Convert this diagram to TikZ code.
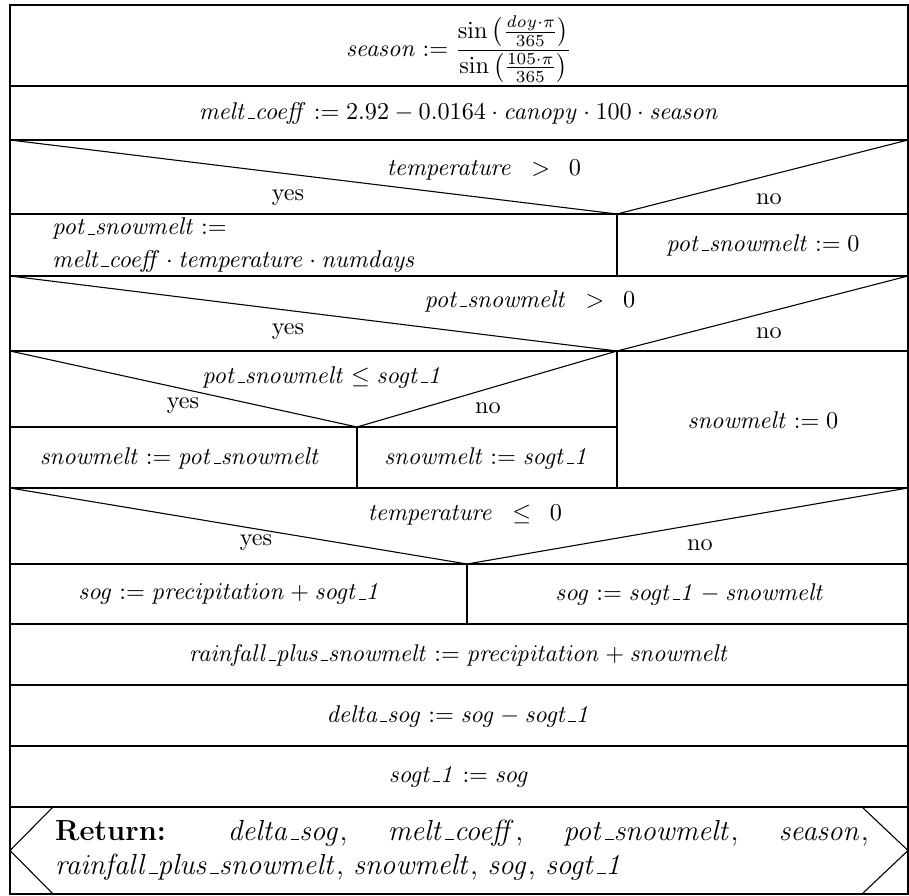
\documentclass[tikz,border=0pt]{standalone}
\usepackage{amsmath}
\newcommand{\us}{\kern.06em\vbox{\hrule width.3em}}
\tikzstyle{txt}=[inner sep=0pt]
\tikzstyle{twoline}=[inner sep=0pt, align=left, font=\fontsize{10pt}{13.4pt}\selectfont]
\tikzstyle{retbox}=[inner sep=0pt, text width=336pt, align=justify, font=\large]
\tikzstyle{frame}=[line width=0.45pt]

\begin{document}
\begin{tikzpicture}[x=0.413pt, y=-0.413pt]
\useasboundingbox (0, 0) rectangle (909, 896);
% outer frame and rows
\draw[frame] (10, 5) rectangle (908, 894);
\foreach \y in {86, 140, 214, 276, 351, 488, 564, 624, 685, 746, 807}
  \draw[frame] (10, \y) -- (908, \y);
\draw[frame] (10, 427) -- (617, 427);
% branch separators
\draw[frame] (617, 214) -- (617, 276);
\draw[frame] (617, 351) -- (617, 488);
\draw[frame] (357, 427) -- (357, 488);
\draw[frame] (467, 564) -- (467, 624);
% decision triangles
\draw[frame] (10, 140) -- (617, 214) -- (908, 140);
\draw[frame] (10, 276) -- (617, 351) -- (908, 276);
\draw[frame] (10, 351) -- (357, 427) -- (617, 351);
\draw[frame] (10, 488) -- (467, 564) -- (908, 488);
% return chevrons
\draw[frame] (53, 807) -- (10, 850.5) -- (53, 894);
\draw[frame] (862, 807) -- (908, 850.5) -- (862, 894);

\node[txt] at (459, 49) (season) {$\displaystyle \mathit{season} := \frac{\sin\mathinner{\bigl(\frac{\mathit{doy}\cdot\pi}{365}\bigr)}}{\sin\mathinner{\bigl(\frac{105\cdot\pi}{365}\bigr)}}$};
\node[txt] at (459, 113) (melt) {$\mathit{melt\us coeff} := 2.92 - 0.0164\cdot\mathit{canopy}\cdot 100\cdot\mathit{season}$};

\node[txt] at (484, 170) (c1) {$\mathit{temperature}\enspace > \enspace 0$};
\node[txt] at (288, 198) (c1y) {yes};
\node[txt] at (769, 199) (c1n) {no};
\node[twoline, anchor=west] at (52, 245) (pot1) {$\mathit{pot\us snowmelt} :=$\\$\mathit{melt\us coeff}\cdot\mathit{temperature}\cdot\mathit{numdays}$};
\node[txt] at (763, 245) (pot2) {$\mathit{pot\us snowmelt} := 0$};

\node[txt] at (530, 301) (c2) {$\mathit{pot\us snowmelt}\enspace > \enspace 0$};
\node[txt] at (288, 332) (c2y) {yes};
\node[txt] at (769, 333) (c2n) {no};

\node[txt] at (323, 377) (c3) {$\mathit{pot\us snowmelt} \le \mathit{sogt\us 1}$};
\node[txt] at (183, 406) (c3y) {yes};
\node[txt] at (488, 408) (c3n) {no};
\node[txt] at (180, 458) (sm1) {$\mathit{snowmelt} := \mathit{pot\us snowmelt}$};
\node[txt] at (487, 458) (sm2) {$\mathit{snowmelt} := \mathit{sogt\us 1}$};
\node[txt] at (763, 420) (sm3) {$\mathit{snowmelt} := 0$};

\node[txt] at (465, 515) (c4) {$\mathit{temperature}\enspace \le \enspace 0$};
\node[txt] at (256, 543) (c4y) {yes};
\node[txt] at (700, 545) (c4n) {no};
\node[txt] at (230, 594) (sog1) {$\mathit{sog} := \mathit{precipitation} + \mathit{sogt\us 1}$};
\node[txt] at (690, 594) (sog2) {$\mathit{sog} := \mathit{sogt\us 1} - \mathit{snowmelt}$};

\node[txt] at (459, 655) (rain) {$\mathit{rainfall\us plus\us snowmelt} := \mathit{precipitation} + \mathit{snowmelt}$};
\node[txt] at (459, 716) (delta) {$\mathit{delta\us sog} := \mathit{sog} - \mathit{sogt\us 1}$};
\node[txt] at (459, 777) (sogt) {$\mathit{sogt\us 1} := \mathit{sog}$};

\node[retbox] at (462, 850) (ret) {\textbf{Return:} $\mathit{delta\us sog}$, $\mathit{melt\us coeff}$, $\mathit{pot\us snowmelt}$, $\mathit{season}$,\linebreak $\mathit{rainfall\us plus\us snowmelt}$, $\mathit{snowmelt}$, $\mathit{sog}$, $\mathit{sogt\us 1}$};
\end{tikzpicture}
\end{document}
